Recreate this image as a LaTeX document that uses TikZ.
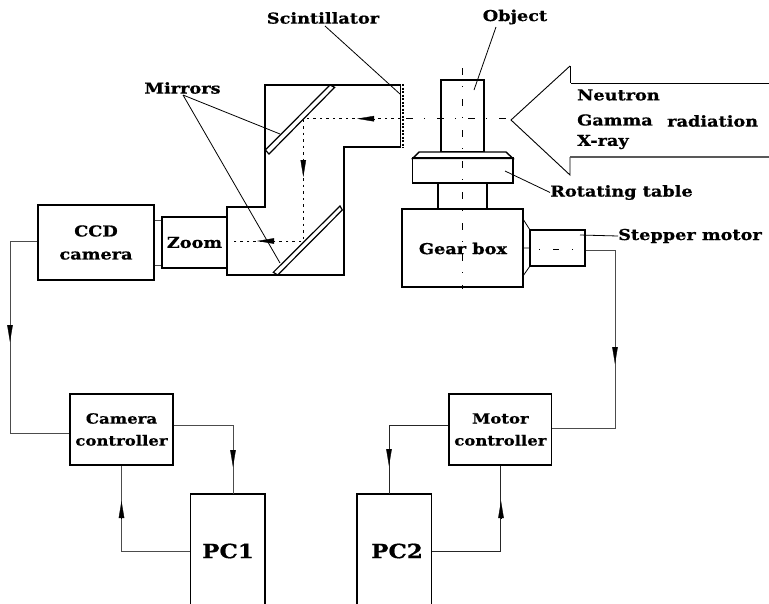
\documentclass[tikz,border=0pt]{standalone}
\usepackage{fontspec}
\setmainfont[FakeStretch=1.18,BoldFeatures={FakeBold=0.8,FakeStretch=1.18}]{DejaVu Serif}
\usetikzlibrary{arrows.meta}
\tikzset{
  x=1pt,y=-1pt,
  lab/.style={font=\bfseries\fontsize{#1}{23}\selectfont,inner sep=0pt,align=center,text=black},
  lab/.default={15},
  boxn/.style={draw=black,line width=1.4pt,inner sep=0pt,align=center,font=\bfseries\fontsize{15}{23}\selectfont},
  thick part/.style={draw=black,line width=2pt,line join=miter},
  part/.style={draw=black,line width=1.4pt,line join=miter},
  wire/.style={draw=black!70,line width=1pt},
  leader/.style={draw=black,line width=0.8pt},
  tiparrow/.style={-{Triangle[length=17pt,width=5.5pt]},line width=0.3pt,draw=black},
  axisline/.style={draw=black,line width=0.7pt,dash pattern=on 7pt off 11pt on 1pt off 12pt},
  dotline/.style={draw=black,line width=0.8pt,dash pattern=on 2.5pt off 4pt},
}
\begin{document}
\begin{tikzpicture}
\useasboundingbox (0,0) rectangle (769,603);
\clip (0,0) rectangle (769,603);
% ---- housing
\path[thick part] (265,84.5) -- (402,84.5) -- (402,147) -- (343.5,147) -- (343.5,275) -- (227,275) -- (227,207) -- (265,207) -- cycle;
% mirrors
\path[part,fill=white,line width=1.2pt] (330,85) -- (334.7,87.3) -- (269,154) -- (265.3,150) -- cycle;
\path[part,fill=white,line width=1.2pt] (340,206) -- (342.3,210) -- (277.7,275) -- (273.3,272.3) -- cycle;
% scintillator
\fill[white] (400.5,84) rectangle (404,148);
\draw[black,line width=1.2pt] (400.5,84) -- (400.5,148);
\draw[black,line width=2pt,dash pattern=on 2pt off 1.5pt] (403.2,84) -- (403.2,148);
% object, table, shaft, gear box, motor
\node[boxn,minimum width=43pt,minimum height=72pt] (object) at (462.5,116) {};
\path[part,fill=white] (412.7,158.5) -- (419,152) -- (506,152) -- (513,158.5) -- cycle;
\node[boxn,minimum width=100.3pt,minimum height=24.5pt] (table) at (462.85,170.75) {};
\draw[black,line width=2pt] (table.north west) -- (table.north east);
\node[boxn,minimum width=49pt,minimum height=26pt] (shaft) at (462.5,196) {};
\node[boxn,minimum width=121pt,minimum height=78pt] (gear) at (462.5,248) {};
\node[lab] (geart) at (463,248.5) {Gear box};
\node[boxn,minimum width=55pt,minimum height=36pt] (motor) at (557.5,248) {};
\coordinate (fa) at (523,219); \coordinate (fb) at (530,230);
\coordinate (fc) at (530,266); \coordinate (fd) at (523,276);
\draw[leader] (fa) -- (fb) (fc) -- (fd) (gear.east) -- (motor.west);
% axes
\coordinate (axT) at (462.7,68); \coordinate (axB) at (462.7,288.5);
\draw[axisline] (axT) -- (axB);
\coordinate (maL) at (539,249); \coordinate (maR) at (573,249);
\draw[draw=black,line width=0.7pt,dash pattern=on 1pt off 13pt on 6pt off 13pt] (maL) -- (maR);
% radiation arrow
\coordinate (rt) at (511,120);
\draw[draw=black,line width=1pt] (769,83) -- (571,83) (570,66) -- (570,83);
\draw[draw=black,line width=0.9pt] (570,66) -- (rt) -- (570,175) -- (570,157);
\draw[draw=black!65,line width=1.3pt] (570,157) -- (769,157);
% beam
\coordinate (beamA) at (303.3,118.7); \coordinate (beamB) at (400,118.7); \coordinate (beamC) at (406,118.7);
\coordinate (beamD) at (303.3,241);  \coordinate (beamE) at (232,241);
\draw[axisline] (beamC) -- (rt |- beamC);
\draw[dotline] (beamB) -- (beamA) -- (beamD) -- (beamE);
\draw[tiparrow] (374,118.7) -- (357,118.7);
\draw[tiparrow] (303.3,160) -- (303.3,177);
\draw[tiparrow] (275,241) -- (257,241);
% ccd and zoom
\node[boxn,minimum width=116pt,minimum height=75pt] (ccd) at (96,242.5) {CCD\\camera};
\node[boxn,minimum width=65pt,minimum height=51pt] (zoom) at (194.5,242.5) {Zoom};
\draw[wire] (ccd.east |- 0,220) -- (zoom.west |- 0,220) (ccd.east |- 0,265) -- (zoom.west |- 0,265);
% controllers
\node[boxn,minimum width=103pt,minimum height=71pt,font=\bfseries\fontsize{14}{22}\selectfont] (camc) at (121.5,429.5) {Camera\\controller};
\node[boxn,minimum width=102.7pt,minimum height=71pt,font=\bfseries\fontsize{14}{22}\selectfont] (motc) at (500.4,429.5) {Motor\\controller};
% PCs (run out of the picture at the bottom)
\node[boxn,minimum width=74.7pt,minimum height=130pt] (pca) at (227.7,559) {};
\node[boxn,minimum width=74.3pt,minimum height=130pt] (pcb) at (394.2,559) {};
\node[lab=19.5] (pcat) at (228,551) {PC1};
\node[lab=19.5] (pcbt) at (397,551) {PC2};
% wires
\draw[wire] (ccd.west |- 0,241) -| (10,433) -- (camc.west |- 0,433);
\draw[tiparrow] (10,325) -- (10,342);
\draw[wire] (camc.east |- 0,425) -| (233,494.0);
\draw[tiparrow] (233,450) -- (233,467);
\draw[wire] (pca.west |- 0,551) -| (camc.south);
\draw[tiparrow] (121.5,518) -- (121.5,501);
\draw[wire] (motor.east |- 0,250) -| (615,428) -- (motc.east |- 0,428);
\draw[tiparrow] (615,347) -- (615,364);
\draw[wire,draw=black!85] (motc.west |- 0,425) -| (389,494);
\draw[tiparrow] (389,449) -- (389,466);
\draw[wire,draw=black!85] (pcb.east |- 0,551) -| (motc.south);
\draw[tiparrow] (501,518) -- (501,501);
% labels and leaders
\node[lab] (scin) at (323,18) {Scintillator};
\node[lab] (obj) at (515,17) {Object};
\node[lab] (mirr) at (182.5,88) {Mirrors};
\node[lab] (rot) at (621.5,192.5) {Rotating table};
\node[lab] (step) at (690,236) {Stepper motor};
\node[lab,anchor=west] (neu) at (577,95) {Neutron};
\node[lab,anchor=west] (gam) at (577,120) {Gamma};
\node[lab,anchor=west] (xr) at (577,142) {X-ray};
\node[lab,anchor=west] (rad) at (667,121) {radiation};
\coordinate (m1) at (280,134); \coordinate (m2) at (280,263);
\coordinate (mo) at (183,95);
\coordinate (sc) at (400,94); \coordinate (ob) at (474,90);
\coordinate (ro) at (505,171); \coordinate (st) at (580,235);
\coordinate (sct) at (325,26); \coordinate (obt) at (496,27);
\draw[leader] (mo) -- (m1) (mo) -- (m2);
\draw[leader] (sct) -- (sc);
\draw[leader] (obt) -- (ob);
\draw[leader] (rot.west) -- (ro);
\draw[leader] (step.west) -- (st);
\end{tikzpicture}
\end{document}
